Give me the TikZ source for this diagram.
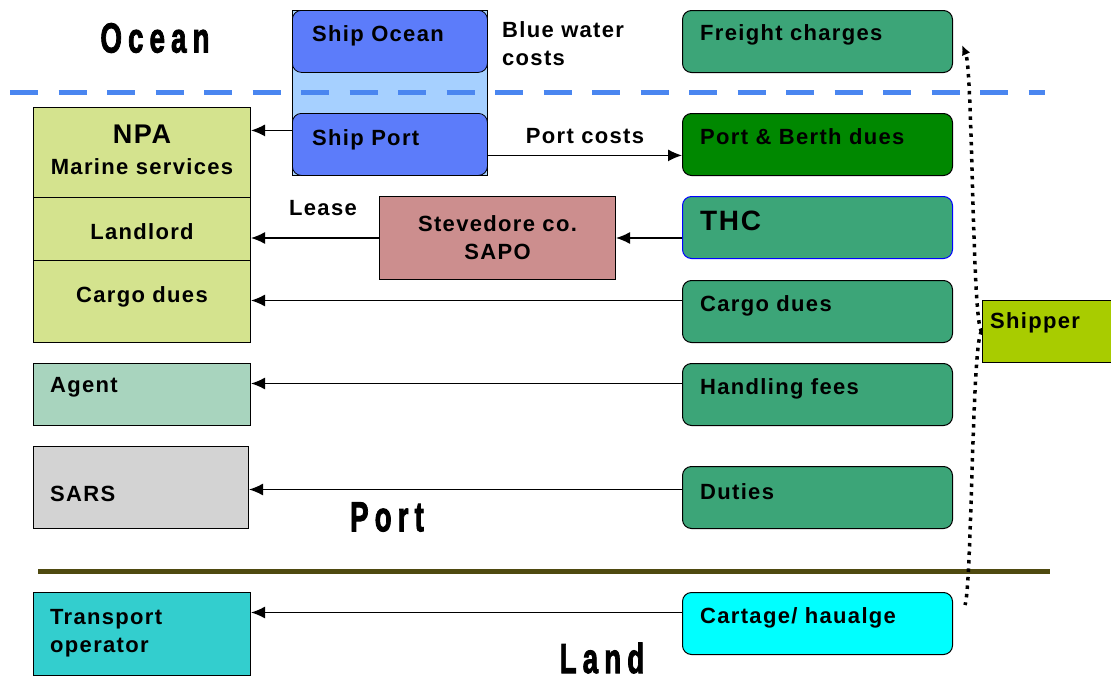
\documentclass[tikz,border=0pt]{standalone}
\usepackage{fontspec}
\setmainfont{Liberation Sans}[LetterSpace=6]
\newfontfamily\zonefont{Liberation Sans}[LetterSpace=22,FakeBold=2.5]
\usetikzlibrary{arrows.meta,positioning}

\definecolor{shipblue}{RGB}{92,124,250}
\definecolor{shiplight}{RGB}{166,208,255}
\definecolor{seagrn}{RGB}{60,165,120}
\definecolor{portgrn}{RGB}{0,136,0}
\definecolor{npagrn}{RGB}{212,227,142}
\definecolor{agentgrn}{RGB}{168,212,190}
\definecolor{sarsgray}{RGB}{211,211,211}
\definecolor{transcyan}{RGB}{51,206,206}
\definecolor{cartcyan}{RGB}{0,255,255}
\definecolor{stevred}{RGB}{204,142,142}
\definecolor{shipperlime}{RGB}{168,204,0}
\definecolor{dashblue}{RGB}{74,134,240}
\definecolor{landolive}{RGB}{79,74,16}

\tikzset{
  costbox/.style={draw,rounded corners=9pt,fill=seagrn,line width=1pt,minimum width=270pt,minimum height=62pt,anchor=north west,inner sep=0pt},
  shipbox/.style={draw,rounded corners=9pt,fill=shipblue,line width=0.8pt,minimum width=195pt,minimum height=62pt,anchor=north west,inner sep=0pt},
  partybox/.style={draw,fill=#1,line width=1pt,minimum width=217pt,anchor=north west,inner sep=0pt},
  boxtxt/.style={font=\bfseries\fontsize{22}{26}\selectfont,anchor=west,inner sep=0pt,text height=.72em,text depth=0pt,yshift=-3pt},
  multitxt/.style={font=\bfseries\fontsize{22}{28}\selectfont,inner sep=0pt},
  zonetxt/.style={font=\zonefont\bfseries\fontsize{42}{42}\selectfont,inner sep=0pt,xscale=0.66,transform shape},
  flow/.style={line width=1.3pt,-{Latex[length=14pt,width=12pt]}},
  dotline/.style={line width=3.5pt,dash pattern=on 3.5pt off 5pt}
}

\begin{document}
\begin{tikzpicture}[x=1pt,y=-1pt]
\useasboundingbox (0,0) rectangle (1111,680);

%% Zone names
\node[zonetxt] (ocean) at (155,38) {Ocean};
\node[zonetxt] (port) at (387,517) {Port};
\node[zonetxt] (land) at (602,658) {Land};

%% Ship
\node[draw,fill=shiplight,line width=0.8pt,minimum width=195pt,minimum height=165pt,anchor=north west,inner sep=0pt] (ship) at (292,10) {};
\node[shipbox] (shipocean) at (292,10) {};
\node[shipbox] (shipport) at (292,113) {};
\node[boxtxt] (shipoceantxt) at ([shift={(20,-7)}]shipocean.west) {Ship Ocean};
\node[boxtxt] (shipporttxt) at ([shift={(20,-6)}]shipport.west) {Ship Port};
\node[multitxt,anchor=north west,align=left] (bluewater) at (502,21) {Blue water\\costs};

%% Zone borders
\draw[dashblue,line width=5pt,dash pattern=on 28pt off 20.5pt] (10,92) -- (1045,92);
\draw[landolive,line width=5pt] (38,571) -- (1050,571);

%% Costs (right column)
\node[costbox] (freight) at (682,10) {};
\node[costbox,fill=portgrn] (berth) at (682,113) {};
\node[costbox,draw=blue] (thc) at (682,196) {};
\node[costbox] (cduesr) at (682,280) {};
\node[costbox] (handling) at (682,363) {};
\node[costbox] (duties) at (682,466) {};
\node[costbox,fill=cartcyan] (cartage) at (682,592) {};
\node[boxtxt] (freighttxt) at ([shift={(18,-8)}]freight.west) {Freight charges};
\node[boxtxt] (berthtxt) at ([shift={(18,-7)}]berth.west) {Port \& Berth dues};
\node[boxtxt,font=\bfseries\fontsize{28}{30}\selectfont] (thctxt) at ([shift={(18,-4)}]thc.west) {THC};
\node[boxtxt] (cduesrtxt) at ([shift={(18,-7)}]cduesr.west) {Cargo dues};
\node[boxtxt] (handlingtxt) at ([shift={(18,-7)}]handling.west) {Handling fees};
\node[boxtxt] (dutiestxt) at ([shift={(18,-5)}]duties.west) {Duties};
\node[boxtxt] (cartagetxt) at ([shift={(18,-7)}]cartage.west) {Cartage/ haualge};

%% Payees (left column)
\node[partybox=npagrn,minimum height=90pt] (npa) at (33,107) {};
\node[partybox=npagrn,minimum height=63pt] (landlord) at (33,197) {};
\node[partybox=npagrn,minimum height=82pt] (cduesl) at (33,260) {};
\node[partybox=agentgrn,minimum height=62pt] (agent) at (33,363) {};
\node[partybox=sarsgray,minimum height=82pt,minimum width=215pt] (sars) at (33,446) {};
\node[partybox=transcyan,minimum height=83pt] (transport) at (33,592) {};
\node[multitxt,align=center,font=\bfseries\fontsize{22}{31}\selectfont] (npatxt) at ([yshift=3pt]npa.center) {{\fontsize{27}{28}\selectfont NPA}\\Marine services};
\node[multitxt] (landlordtxt) at ([shift={(0,3)}]landlord.center) {Landlord};
\node[multitxt] (cduesltxt) at ([shift={(0,-5)}]cduesl.center) {Cargo dues};
\node[boxtxt] (agenttxt) at ([shift={(17,-9)}]agent.west) {Agent};
\node[boxtxt] (sarstxt) at ([shift={(17,7)}]sars.west) {SARS};
\node[multitxt,anchor=west,align=left] (transporttxt) at ([shift={(17,-1)}]transport.west) {Transport\\operator};

%% Stevedore
\node[draw,fill=stevred,line width=1pt,minimum width=236pt,minimum height=83pt,anchor=north west,inner sep=0pt] (stev) at (379,196) {};
\node[multitxt,align=center] (stevtxt) at (stev.center) {Stevedore co.\\SAPO};

%% Shipper
\node[draw,fill=shipperlime,line width=1pt,minimum width=140pt,minimum height=62pt,anchor=north west,inner sep=0pt] (shipper) at (982,300) {};
\node[boxtxt] (shippertxt) at ([shift={(8,-10)}]shipper.west) {Shipper};

%% Flows
\coordinate (npain) at ([yshift=14pt]shipport.west);
\coordinate (portout) at ([yshift=-11pt]shipport.east);
\coordinate (cduesout) at ([yshift=11pt]cduesr.west);
\coordinate (handlingout) at ([yshift=11pt]handling.west);
\coordinate (dutiesout) at ([yshift=8pt]duties.west);
\coordinate (cartageout) at ([yshift=11pt]cartage.west);
\draw[flow] (npain) -- (npain -| npa.east);
\draw[flow] (portout) -- (portout -| berth.west);
\node[multitxt] (portcosts) at (585,136) {Port costs};
\draw[flow] (stev.west) -- (stev.west -| landlord.east);
\node[multitxt] (lease) at (323,208) {Lease};
\draw[flow] (thc.west |- stev.east) -- (stev.east);
\draw[flow] (cduesout) -- (cduesout -| cduesl.east);
\draw[flow] (handlingout) -- (handlingout -| agent.east);
\draw[flow] (dutiesout) -- (dutiesout -| sars.east);
\draw[flow] (cartageout) -- (cartageout -| transport.east);

%% Shipper pays
\coordinate (freightend) at (962,45);
\coordinate (cartageend) at (965,605);
\draw[dotline,-{Latex[length=10pt,width=9pt]}] (shipper.west) .. controls (972,331) and (973,70) .. (freightend);
\draw[dotline] (shipper.west) .. controls (972,331) and (972,585) .. (cartageend);
\end{tikzpicture}
\end{document}
